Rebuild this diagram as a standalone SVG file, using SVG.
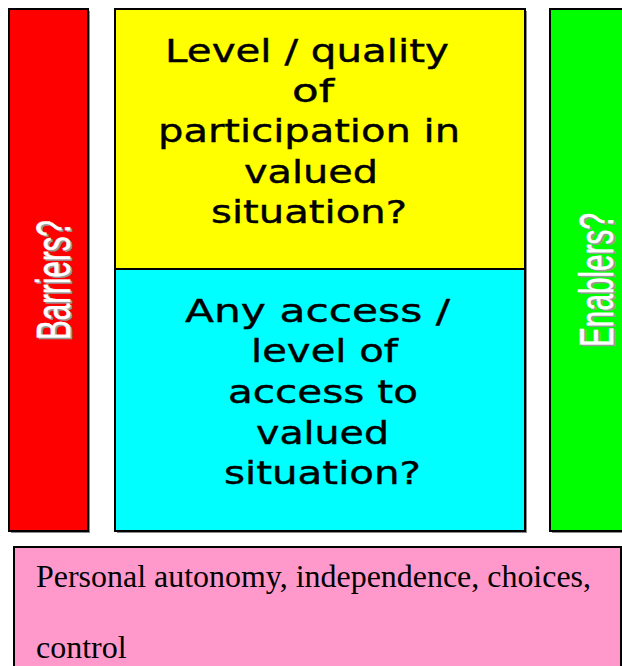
<svg xmlns="http://www.w3.org/2000/svg" width="622" height="666" viewBox="0 0 622 666">
<style>
.box{stroke:#000;stroke-width:2}
.shadow{fill:#8a8a8a}
.mid{font-family:"DejaVu Sans","Verdana",sans-serif;font-size:32px;fill:#000;stroke:#000;stroke-width:0.4}
.vert{font-family:"Liberation Sans","Arial",sans-serif;font-size:49px;fill:#fff;stroke:#fff;stroke-width:0.6}
.vshadow{font-family:"Liberation Sans","Arial",sans-serif;font-size:49px;fill:#9a9a9a;stroke:#9a9a9a;stroke-width:0.6}
.serif{font-family:"Liberation Serif","Times New Roman",serif;font-size:32px;fill:#000}
</style>
<rect width="622" height="666" fill="#fff"/>

<g id="barriers">
<rect class="shadow" x="11" y="11" width="79" height="522"/>
<rect class="box" x="9" y="9" width="79" height="522" fill="#ff0000"/>
<text class="vshadow" transform="translate(71.5,341.5) rotate(-90)" x="0" y="0" textLength="120" lengthAdjust="spacingAndGlyphs">Barriers?</text>
<text class="vert" transform="translate(70,340) rotate(-90)" x="0" y="0" textLength="120" lengthAdjust="spacingAndGlyphs">Barriers?</text>
</g>

<g id="enablers">
<rect class="shadow" x="552" y="11" width="80" height="522"/>
<rect class="box" x="550" y="9" width="80" height="522" fill="#00ff00"/>
<text class="vshadow" transform="translate(614.5,348.5) rotate(-90)" x="0" y="0" textLength="134" lengthAdjust="spacingAndGlyphs">Enablers?</text>
<text class="vert" transform="translate(613,347) rotate(-90)" x="0" y="0" textLength="134" lengthAdjust="spacingAndGlyphs">Enablers?</text>
</g>

<g id="participation">
<rect class="shadow" x="117" y="11" width="410" height="522"/>
<rect class="box" x="115" y="9" width="410" height="260" fill="#ffff00"/>
<text class="mid" x="165" y="62" textLength="284" lengthAdjust="spacingAndGlyphs">Level / quality</text>
<text class="mid" x="292" y="102" textLength="42" lengthAdjust="spacingAndGlyphs">of</text>
<text class="mid" x="158" y="142" textLength="302" lengthAdjust="spacingAndGlyphs">participation in</text>
<text class="mid" x="244" y="183" textLength="134" lengthAdjust="spacingAndGlyphs">valued</text>
<text class="mid" x="211" y="223" textLength="196" lengthAdjust="spacingAndGlyphs">situation?</text>
</g>

<g id="access">
<rect class="box" x="115" y="269" width="410" height="262" fill="#00ffff"/>
<text class="mid" x="185" y="322" textLength="265" lengthAdjust="spacingAndGlyphs">Any access  /</text>
<text class="mid" x="251" y="362" textLength="147" lengthAdjust="spacingAndGlyphs">level of</text>
<text class="mid" x="228" y="403" textLength="190" lengthAdjust="spacingAndGlyphs">access to</text>
<text class="mid" x="256" y="444" textLength="133" lengthAdjust="spacingAndGlyphs">valued</text>
<text class="mid" x="224" y="484" textLength="197" lengthAdjust="spacingAndGlyphs">situation?</text>
</g>

<g id="autonomy">
<rect class="box" x="14" y="547" width="607" height="130" fill="#ff99cc"/>
<text class="serif" x="36" y="587" textLength="555" lengthAdjust="spacingAndGlyphs">Personal autonomy, independence, choices,</text>
<text class="serif" x="36" y="658">control</text>
</g>

<g id="connectors"></g>
</svg>
